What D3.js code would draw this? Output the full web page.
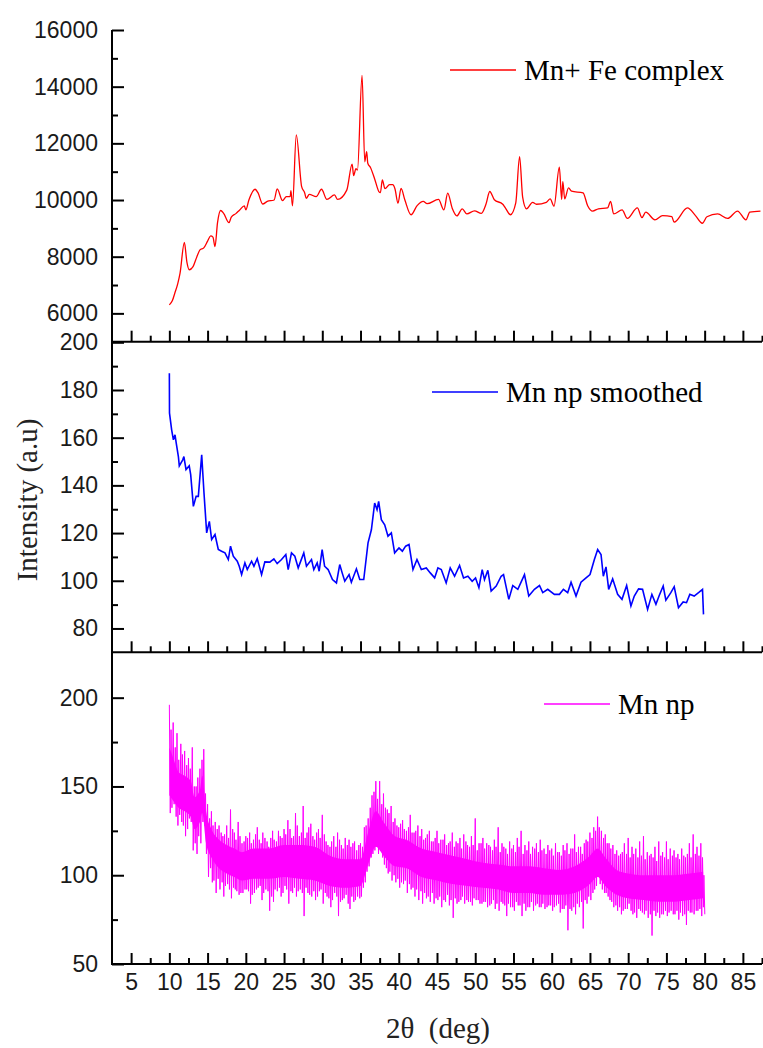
<!DOCTYPE html>
<html>
<head>
<meta charset="utf-8">
<script src="https://cdn.jsdelivr.net/npm/d3@7"></script>
<style>
  html, body { margin: 0; padding: 0; background: #fff; }
  svg { display: block; }
</style>
</head>
<body>
<svg id="chart" width="763" height="1048"></svg>
<script>
// ---------------- DATA ----------------
const xTicks = [5,10,15,20,25,30,35,40,45,50,55,60,65,70,75,80,85];
const topTicks = [6000,8000,10000,12000,14000,16000];
const midTicks = [80,100,120,140,160,180,200];
const botTicks = [50,100,150,200];

const seriesNames = ["Mn+ Fe complex", "Mn np smoothed", "Mn np"];

// Mn+ Fe complex  [2θ, intensity]
const redSeries = [
 [10.0,6300],[10.4,6450],[10.7,6700],[11.1,7050],[11.4,7420],[11.96,8500],[12.3,7800],[12.6,7540],[13.1,7650],[13.6,8000],[14.0,8240],[14.5,8310],[15.0,8550],[15.4,8735],[15.7,8690],[15.97,8360],
 [16.3,9200],[16.7,9630],[17.1,9530],[17.8,9200],[18.1,9400],[18.7,9520],[19.2,9650],[19.8,9790],[20.0,9650],[20.4,10000],[21.2,10380],[21.6,10250],[22.2,9860],[22.8,9950],[23.7,10000],
 [24.1,10390],[24.8,9980],[25.3,10120],[25.8,10120],[25.9,10330],[26.1,9790],[26.6,12300],[27.3,10470],[27.7,10250],[27.9,10060],[28.3,10200],[29.2,10120],[29.9,10380],[30.6,10020],
 [31.6,10180],[32.0,10020],[33.2,10350],[33.9,11270],[34.1,10860],[34.4,11110],[34.6,11060],[35.2,14400],[35.55,11350],[35.8,11710],[35.95,11300],[36.3,11150],[36.9,10700],[37.4,10300],
 [37.6,10260],[37.85,10710],[38.2,10400],[38.8,10540],[39.2,10540],[39.5,10400],[39.9,9890],[40.3,10410],[40.8,10000],[41.6,9480],[42.4,9800],[43.2,9950],[43.7,9870],[45.2,10020],
 [45.9,9650],[46.4,10240],[47.0,9700],[47.6,9440],[48.3,9690],[48.9,9510],[49.9,9620],[50.8,9530],[51.4,9850],[51.9,10300],[52.5,10010],[53.6,9850],[53.9,9740],[54.6,9480],[55.3,9900],
 [55.8,11530],[56.2,10100],[56.7,9690],[57.5,9920],[58.0,9850],[59.3,9920],[59.8,10040],[60.3,9780],[61.0,11160],[61.3,10020],[61.45,10650],[61.7,10040],[62.2,10430],[62.6,10310],
 [64.1,10250],[64.7,9800],[65.35,9610],[66.1,9690],[67.3,9720],[67.7,9950],[68.1,9510],[69.2,9650],[69.9,9350],[71.2,9720],[71.8,9380],[72.3,9570],[73.5,9300],[74.5,9450],[75.7,9410],
 [76.0,9220],[77.75,9720],[78.8,9450],[79.7,9180],[80.3,9410],[81.7,9510],[83.0,9350],[84.3,9610],[85.4,9300],[85.9,9570],[87.3,9610]
];

// Mn np smoothed  [2θ, intensity]
const blueSeries = [
 [10.0,187.0],[10.02,170.3],[10.3,163.3],[10.53,159.1],[10.74,161.2],[10.9,157.7],[11.18,152.1],[11.3,148.2],[11.75,150.7],[11.9,152.1],[12.18,146.6],[12.6,148.2],[12.79,144.5],
 [13.14,131.2],[13.5,135.4],[13.79,135.4],[14.23,152.8],[14.53,136.8],[14.88,120.1],[15.23,124.9],[15.53,117.3],[15.97,119.4],[16.4,113.1],[16.83,112.4],[17.27,111.7],[17.71,108.9],
 [18.0,114.5],[18.36,110.3],[18.88,108.2],[19.14,106.1],[19.45,102.6],[19.88,107.5],[20.19,104.7],[20.75,108.2],[21.06,106.1],[21.49,109.3],[22.06,102.6],[22.49,107.9],[23.14,107.8],
 [23.67,109.2],[24.1,107.2],[24.67,108.9],[25.23,111.0],[25.54,104.7],[25.97,111.7],[26.41,110.3],[26.85,105.4],[27.58,111.7],[27.93,106.1],[28.59,108.9],[28.89,104.7],[29.33,107.5],
 [29.59,104.0],[29.98,113.1],[30.3,106.1],[30.76,104.7],[31.33,100.5],[31.85,99.1],[32.28,106.8],[32.6,103.3],[32.94,99.8],[33.5,102.6],[33.8,99.4],[34.46,105.0],[34.9,100.5],
 [35.42,100.5],[35.98,115.9],[36.42,121.4],[36.85,132.6],[37.16,129.8],[37.37,133.3],[37.72,125.6],[38.16,123.5],[38.59,118.7],[39.03,120.1],[39.46,111.7],[40.03,113.8],[40.47,112.4],
 [40.9,114.5],[41.34,115.2],[41.86,104.7],[42.38,108.9],[42.95,104.7],[43.6,105.4],[44.12,103.3],[44.69,101.2],[45.12,105.4],[45.56,104.7],[46.2,99.1],[46.73,105.4],[47.3,101.9],
 [47.95,106.4],[48.47,101.2],[49.04,101.9],[49.6,99.8],[50.04,101.2],[50.48,97.1],[50.91,104.7],[51.21,100.5],[51.65,104.4],[52.08,95.7],[52.74,97.8],[53.39,101.9],[53.7,102.6],
 [54.39,92.2],[54.91,98.0],[55.57,96.4],[56.44,102.6],[57.0,93.6],[57.74,96.4],[58.4,98.0],[58.83,95.0],[59.48,96.4],[60.35,94.3],[61.01,94.3],[61.53,96.4],[62.09,95.0],[62.53,99.4],
 [63.18,93.6],[63.83,99.4],[64.49,101.2],[65.01,102.6],[65.58,108.9],[66.01,113.1],[66.45,111.0],[66.75,101.9],[67.1,105.8],[67.45,96.4],[67.97,100.8],[68.62,94.3],[69.19,92.2],
 [69.8,98.0],[70.36,89.4],[70.8,93.6],[71.36,96.6],[71.88,96.4],[72.54,88.0],[73.1,94.3],[73.63,90.1],[74.06,93.8],[74.58,97.8],[74.93,91.9],[75.58,95.0],[76.02,97.5],[76.58,88.7],
 [77.19,91.1],[77.63,90.8],[78.06,94.3],[78.63,93.6],[79.28,95.2],[79.72,96.4],[79.85,85.9]
];

// Mn np (raw), tallest spikes: [2θ, spike high, spike low]
const magentaSpikes = [
 [10.0,196,135],[10.5,186,140],[11.0,180,128],[11.5,174,130],[12.0,170,122],[12.5,166,132],[13.0,172,114],[13.5,150,112],[14.0,160,118],[14.5,171,128],
 [15.0,140,99],[15.5,136,96],[16.0,130,90],[16.5,128,92],[17.0,122,88],[17.5,128,95],[18.0,137,87],[18.5,124,92],[19.0,130,89],[19.5,118,90],
 [20.0,122,92],[20.5,124,84],[21.0,120,90],[21.5,127,93],[22.0,118,86],[22.5,121,92],[23.0,116,80],[23.5,125,85],[24.0,119,91],[24.5,122,88],
 [25.0,126,94],[25.5,131,84],[26.0,121,90],[26.5,135,88],[27.0,122,92],[27.5,139,77],[28.0,124,90],[28.5,129,88],[29.0,120,86],[29.5,126,91],
 [30.0,134,84],[30.5,119,88],[31.0,116,82],[31.5,122,90],[32.0,124,77],[32.5,117,86],[33.0,121,89],[33.5,120,81],[34.0,118,85],[34.5,114,88],
 [35.0,118,88],[35.5,127,96],[36.0,132,105],[36.5,145,112],[37.0,153,116],[37.5,153,118],[38.0,146,106],[38.5,137,101],[39.0,139,97],[39.5,132,96],
 [40.0,127,93],[40.5,131,95],[41.0,125,90],[41.5,134,92],[42.0,124,88],[42.5,128,86],[43.0,126,84],[43.5,121,87],[44.0,125,85],[44.5,119,84],
 [45.0,125,86],[45.5,120,82],[46.0,123,85],[46.5,118,83],[47.0,124,76],[47.5,119,84],[48.0,121,86],[48.5,123,84],[49.0,117,85],[49.5,122,83],
 [50.0,132,86],[50.5,118,84],[51.0,121,85],[51.5,118,82],[52.0,116,84],[52.5,120,81],[53.0,127,80],[53.5,118,84],[54.0,115,77],[54.5,119,82],
 [55.0,117,80],[55.5,121,83],[56.0,125,77],[56.5,117,80],[57.0,119,82],[57.5,116,80],[58.0,118,84],[58.5,120,82],[59.0,115,81],[59.5,117,83],
 [60.0,115,80],[60.5,118,83],[61.0,113,79],[61.5,117,81],[62.0,118,69],[62.5,115,80],[63.0,123,78],[63.5,116,82],[64.0,112,70],[64.5,120,84],
 [65.0,124,86],[65.5,127,92],[66.0,133,100],[66.5,125,92],[67.0,123,90],[67.5,118,86],[68.0,117,82],[68.5,114,80],[69.0,112,78],[69.5,118,81],
 [70.0,121,84],[70.5,116,78],[71.0,115,76],[71.5,119,80],[72.0,122,78],[72.5,113,76],[73.0,112,66],[73.5,116,77],[74.0,119,76],[74.5,113,78],
 [75.0,119,77],[75.5,115,80],[76.0,114,78],[76.5,112,75],[77.0,115,77],[77.5,110,72],[78.0,118,79],[78.5,123,78],[79.0,116,80],[79.5,118,77],[79.9,100,78]
];
// Mn np (raw), shorter in-between spikes: [2θ, spike high, spike low]
const magentaSpikesMid = [
 [10.22,182,138],[10.77,172,133],[11.23,165,134],[11.71,168,128],[12.27,162,126],[12.74,160,130],[13.26,150,118],[13.72,155,122],[14.27,165,130],[14.73,146,112],
 [15.27,132,104],[15.71,128,97],[16.26,126,98],[16.78,124,96],[17.22,123,94],[17.74,121,92],[18.28,126,93],[18.71,120,91],[19.24,122,90],[19.77,119,92],
 [20.23,121,91],[20.72,118,89],[21.27,123,92],[21.76,120,94],[22.22,124,90],[22.78,119,91],[23.26,121,88],[23.71,120,92],[24.27,125,93],[24.74,121,90],
 [25.22,123,92],[25.78,126,91],[26.24,122,93],[26.73,128,91],[27.27,124,90],[27.76,121,93],[28.23,127,89],[28.77,122,91],[29.26,124,88],[29.72,121,92],
 [30.27,123,90],[30.74,117,87],[31.22,119,86],[31.78,116,88],[32.26,120,85],[32.73,115,87],[33.27,117,84],[33.74,116,88],[34.22,119,86],[34.78,117,87],
 [35.26,116,93],[35.73,128,102],[36.27,138,110],[36.76,147,114],[37.23,143,112],[37.78,140,110],[38.26,138,104],[38.72,135,102],[39.27,130,100],[39.76,128,98],
 [40.24,129,96],[40.73,126,97],[41.27,127,95],[41.74,124,93],[42.22,125,92],[42.78,122,91],[43.26,120,90],[43.73,123,88],[44.27,119,90],[44.76,121,87],
 [45.23,118,88],[45.78,120,86],[46.26,117,89],[46.72,119,86],[47.27,116,87],[47.74,118,85],[48.22,115,88],[48.78,119,86],[49.26,116,85],[49.73,117,87],
 [50.27,114,86],[50.76,118,84],[51.23,115,85],[51.78,117,83],[52.26,114,86],[52.72,116,84],[53.27,113,85],[53.74,116,83],[54.22,112,84],[54.78,115,82],
 [55.26,113,85],[55.73,116,83],[56.27,112,84],[56.76,114,82],[57.23,112,85],[57.78,115,83],[58.26,113,82],[58.72,114,84],[59.27,112,82],[59.74,114,83],
 [60.22,111,82],[60.78,113,84],[61.26,111,81],[61.73,114,83],[62.27,112,81],[62.76,115,82],[63.23,113,84],[63.78,116,85],[64.26,118,86],[64.72,119,88],
 [65.27,121,90],[65.74,125,94],[66.22,127,95],[66.78,121,90],[67.26,118,88],[67.73,115,85],[68.27,112,83],[68.76,111,82],[69.23,113,80],[69.78,112,81],
 [70.26,110,80],[70.72,112,79],[71.27,110,81],[71.74,111,79],[72.22,109,80],[72.78,111,78],[73.26,110,80],[73.73,108,79],[74.27,111,78],[74.76,110,80],
 [75.23,109,79],[75.78,111,78],[76.26,110,80],[76.72,109,79],[77.27,111,78],[77.74,112,80],[78.22,110,79],[78.78,112,80],[79.26,111,81],[79.72,110,82]
];
// Mn np dense core band: [2θ, low, high]
const magentaCore = [
 [10.0,145,172],[10.5,142,166],[11.2,138,158],[12.0,136,156],[12.8,133,153],[13.3,126,144],[14.0,130,148],[14.3,135,156],[14.8,118,136],[15.5,110,126],
 [16.5,104,120],[17.5,101,117],[18.5,99,115],[19.5,97,113],[21,98,115],[23,98,115],[25,99,117],[27,98,117],[29,97,116],[31,94,111],[33,93,109],[35,94,109],
 [36,106,124],[37,116,136],[38,111,130],[39.5,105,122],[41,104,120],[43,99,115],[45,97,113],[47,95,111],[49,94,109],[51,93,107],[53,92,106],[55,90,105],
 [57,90,105],[59,89,104],[61,89,103],[63,90,105],[65,95,111],[66,99,115],[67,94,110],[68.5,89,103],[70,87,101],[72,86,100],[74,85,100],[76,85,100],
 [78,86,101],[79.8,87,102]
];

// ---------------- LAYOUT ----------------
const svg = d3.select("#chart");
const X0 = 112, X1 = 762;
const x = d3.scaleLinear().domain([2.5, 87.5]).range([X0, X1]);
const xMinor = d3.range(7.5, 88, 5);

const numFont = "'Liberation Sans', Arial, sans-serif";
const serif = "'Liberation Serif', 'Times New Roman', serif";

const panels = [
  {domain:[5000,16000], range:[341.7,30], ticks:topTicks, minor:d3.range(7000,16000,2000),
   color:"#ff0000", name:seriesNames[0], legendY:70, legendX:450},
  {domain:[70,200], range:[652.3,342.3], ticks:midTicks, minor:d3.range(90,200,20),
   color:"#0000ff", name:seriesNames[1], legendY:392, legendX:432},
  {domain:[50,225], range:[964,653.3], ticks:botTicks, minor:[75,125,175],
   color:"#ff00ff", name:seriesNames[2], legendY:704, legendX:544}
];
panels.forEach(p => p.y = d3.scaleLinear().domain(p.domain).range(p.range));

function styleAxis(g){
  g.select(".domain").remove();
  g.selectAll(".tick line").attr("stroke","#000").attr("stroke-width",2);
  g.selectAll(".tick text").attr("fill","#1a1a1a").style("font-family",numFont).style("font-size","23px");
}

// ---- series ----
const pTop = panels[0], pMid = panels[1], pBot = panels[2];

svg.append("path").datum(redSeries)
  .attr("fill","none").attr("stroke",pTop.color).attr("stroke-width",1.3)
  .attr("d", d3.line().x(d=>x(d[0])).y(d=>pTop.y(d[1])).curve(d3.curveMonotoneX));

svg.append("path").datum(blueSeries)
  .attr("fill","none").attr("stroke",pMid.color).attr("stroke-width",1.6)
  .attr("d", d3.line().x(d=>x(d[0])).y(d=>pMid.y(d[1])));

svg.append("path").datum(magentaCore)
  .attr("fill",pBot.color).attr("stroke","none")
  .attr("d", d3.area().x(d=>x(d[0])).y0(d=>pBot.y(d[1])).y1(d=>pBot.y(d[2])).curve(d3.curveMonotoneX));

const allSpikes = magentaSpikes.concat(magentaSpikesMid).sort((a,b)=>a[0]-b[0]);
const zig = [];
allSpikes.forEach((d,i) => { zig.push([d[0], d[1]]); zig.push([d[0]+0.12, d[2]]); });
svg.append("path").datum(zig)
  .attr("fill","none").attr("stroke",pBot.color).attr("stroke-width",1.0)
  .attr("d", d3.line().x(d=>x(d[0])).y(d=>pBot.y(d[1])));

// ---- axes ----
panels.forEach((p, i) => {
  svg.append("g").attr("transform",`translate(${X0},0)`)
    .call(d3.axisLeft(p.y).tickValues(p.ticks).tickSizeInner(-12).tickSizeOuter(0).tickPadding(14).tickFormat(d3.format("d")))
    .call(styleAxis);
  svg.append("g").attr("transform",`translate(${X0},0)`)
    .call(d3.axisLeft(p.y).tickValues(p.minor).tickSizeInner(-6).tickSizeOuter(0).tickFormat(""))
    .call(styleAxis);
  const yb = p.range[0];
  svg.append("g").attr("transform",`translate(0,${yb})`)
    .call(d3.axisBottom(x).tickValues(xTicks).tickSizeInner(-11).tickSizeOuter(0).tickPadding(10).tickFormat(i===2 ? d3.format("d") : ""))
    .call(styleAxis);
  svg.append("g").attr("transform",`translate(0,${yb})`)
    .call(d3.axisBottom(x).tickValues(xMinor).tickSizeInner(-6).tickSizeOuter(0).tickFormat(""))
    .call(styleAxis);
  svg.append("line").attr("x1",X0-1).attr("x2",X1).attr("y1",yb).attr("y2",yb)
    .attr("stroke","#000").attr("stroke-width",2);

  svg.append("line").attr("x1",p.legendX).attr("x2",p.legendX+66)
    .attr("y1",p.legendY).attr("y2",p.legendY).attr("stroke",p.color).attr("stroke-width",1.3);
  svg.append("text").attr("x",p.legendX+74).attr("y",p.legendY+10)
    .style("font-family",serif).style("font-size","29px").attr("fill","#000").text(p.name);
});

svg.append("line").attr("x1",X0).attr("x2",X0).attr("y1",30).attr("y2",965)
  .attr("stroke","#000").attr("stroke-width",2);

svg.append("text").attr("transform","translate(37,500) rotate(-90)")
  .attr("text-anchor","middle").style("font-family",serif).style("font-size","29px").attr("fill","#222")
  .text("Intensity (a.u)");
svg.append("text").attr("x",438).attr("y",1038).attr("text-anchor","middle")
  .style("font-family",serif).style("font-size","29px").attr("fill","#222")
  .style("white-space","pre").text("2θ  (deg)");
</script>
</body>
</html>
